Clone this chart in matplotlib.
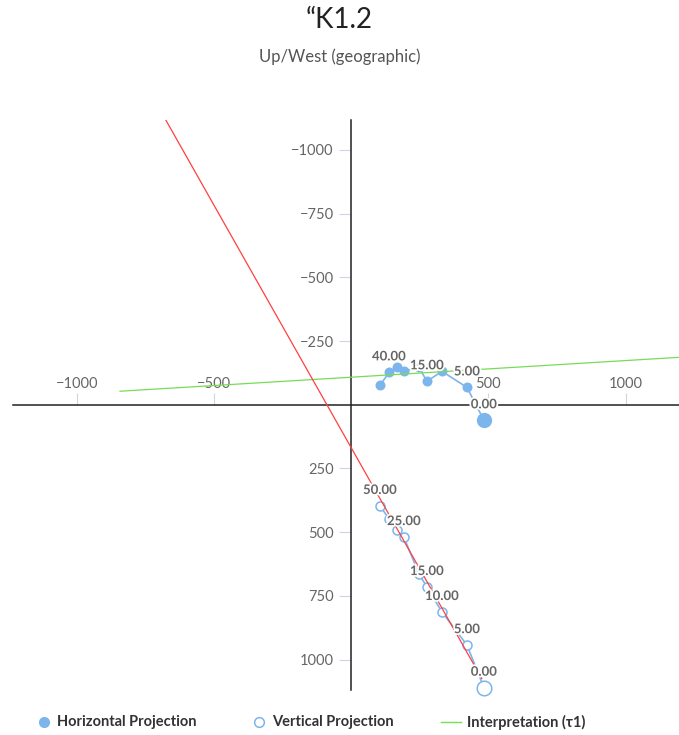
import matplotlib
matplotlib.use("Agg")
import matplotlib.pyplot as plt
import matplotlib.patheffects as pe

plt.rcParams['font.family'] = ['Lato', 'DejaVu Sans']

# demagnetization steps and projected components
steps = ['0.00', '5.00', '10.00', '15.00', '20.00', '25.00', '30.00', '40.00', '50.00']
north = [484, 422, 331, 276, 247, 192, 167, 138, 105]
east = [61, -68, -131, -92, -147, -131, -147, -127, -76]
down = [1110, 943, 813, 715, 664, 519, 491, 448, 397]
horiz_shown = ['0.00', '5.00', '15.00', '40.00']
vert_shown = ['0.00', '5.00', '10.00', '15.00', '25.00', '50.00']

# interpretation (tau1) lines
fit_h_x = [-843, 1195]
fit_h_y = [-53, -186]
fit_v_x = [-676, 476]
fit_v_y = [-1117, 1074]

x_ticks = [-1000, -500, 500, 1000]
y_ticks = [-1000, -750, -500, -250, 250, 500, 750, 1000]

blue = '#7cb5ec'
green = '#77dd55'
red = '#ff4040'

fig = plt.figure(figsize=(6.79, 7.35), dpi=100)
ax = fig.add_axes([13 / 679, 45 / 735, 666 / 679, 570 / 735])
ax.set_xlim(-1233, 1195)
ax.set_ylim(1119, -1117)

for s in ['right', 'bottom']:
    ax.spines[s].set_visible(False)
ax.spines['top'].set_position(('data', 0))
ax.spines['left'].set_position(('data', 0))
for s in ['top', 'left']:
    ax.spines[s].set_color('#222222')
    ax.spines[s].set_linewidth(1.1)

ax.xaxis.set_ticks_position('top')
ax.set_xticks(x_ticks)
ax.set_xticklabels([str(t).replace('-', '\u2212') for t in x_ticks])
ax.set_yticks(y_ticks)
ax.set_yticklabels([str(t).replace('-', '\u2212') for t in y_ticks])
ax.tick_params(axis='x', direction='out', length=8.6, width=0.8, color='#ccd6eb',
               labelcolor='#666666', labelsize=10.5, pad=1)
ax.tick_params(axis='y', direction='out', length=8.6, width=0.8, color='#ccd6eb',
               labelcolor='#666666', labelsize=10.5, pad=4)

# horizontal projection
ax.plot(north, east, '-', color=blue, lw=1.2, zorder=3, clip_on=False)
ax.scatter(north[1:], east[1:], s=7.2 ** 2, color=blue, zorder=4, linewidths=0, clip_on=False)
ax.scatter(north[:1], east[:1], s=11 ** 2, color=blue, zorder=4, linewidths=0, clip_on=False)

# vertical projection
ax.plot(north, down, '-', color=blue, lw=1.2, zorder=3, clip_on=False)
ax.scatter(north[1:], down[1:], s=6.5 ** 2, facecolor='white', edgecolor=blue,
           linewidths=1.1, zorder=4, clip_on=False)
ax.scatter(north[:1], down[:1], s=10.5 ** 2, facecolor='white', edgecolor=blue,
           linewidths=1.1, zorder=4, clip_on=False)

# interpretation
ax.plot(fit_h_x, fit_h_y, color=green, lw=0.9, zorder=5)
ax.plot(fit_v_x, fit_v_y, color=red, lw=0.9, zorder=5)

outline = [pe.withStroke(linewidth=2.5, foreground='white')]
for n, e, d, s in zip(north, east, down, steps):
    if s in horiz_shown:
        ax.annotate(s, (n, e), xytext=(0, 11.5), textcoords='offset points', ha='center',
                    va='center', fontsize=9.5, fontweight='bold', color='#666666',
                    path_effects=outline, zorder=6)
    if s in vert_shown:
        ax.annotate(s, (n, d), xytext=(0, 11.5), textcoords='offset points', ha='center',
                    va='center', fontsize=9.5, fontweight='bold', color='#666666',
                    path_effects=outline, zorder=6)

fig.text(0.5, 1 - 20 / 735, '\u201cK1.2', ha='center', va='center', fontsize=20, color='#222222')
fig.text(0.5, 1 - 57 / 735, 'Up/West (geographic)', ha='center', va='center', fontsize=12,
         color='#555555')

# legend, laid out in pixel coordinates
lg = fig.add_axes([0, 0, 1, 1], facecolor='none')
lg.set_xlim(0, 679)
lg.set_ylim(735, 0)
lg.axis('off')
ly = 722
lg.plot([44], [ly], 'o', color=blue, ms=7)
lg.plot([259], [ly], 'o', mfc='white', mec=blue, mew=1.1, ms=7)
lg.plot([441, 461], [ly, ly], color=green, lw=1)
legend_labels = ['Horizontal Projection', 'Vertical Projection', 'Interpretation (\u03c41)']
for lx, txt in zip([57, 272, 467], legend_labels):
    lg.text(lx, ly, txt, ha='left', va='center', fontsize=10.5, fontweight='bold', color='#333333')

fig.savefig('out.png', dpi=100)
